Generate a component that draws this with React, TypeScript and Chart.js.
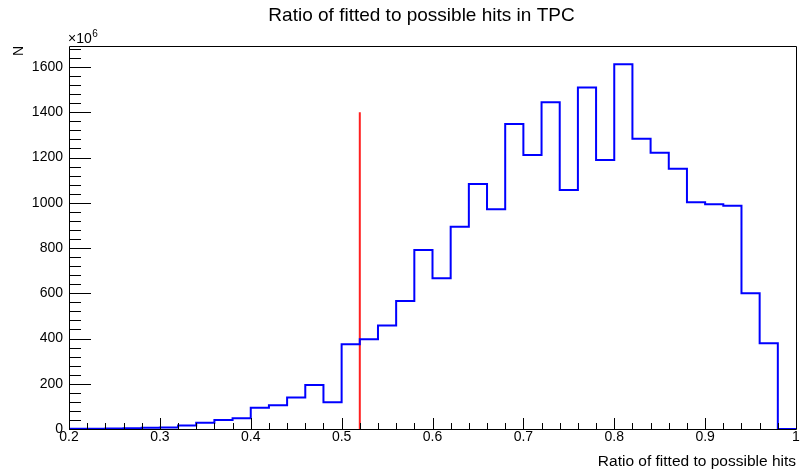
import React, { useEffect, useRef } from "react";
import { Chart, registerables } from "chart.js";

Chart.register(...registerables);

// Histogram bin low edges (ratio), bin width 0.02
const binLowEdges = [
  0.2, 0.22, 0.24, 0.26, 0.28, 0.3, 0.32, 0.34, 0.36, 0.38,
  0.4, 0.42, 0.44, 0.46, 0.48, 0.5, 0.52, 0.54, 0.56, 0.58,
  0.6, 0.62, 0.64, 0.66, 0.68, 0.7, 0.72, 0.74, 0.76, 0.78,
  0.8, 0.82, 0.84, 0.86, 0.88, 0.9, 0.92, 0.94, 0.96, 0.98,
];
const binUpperEdge = 1.0;

// Counts in units of 10^6
const counts = [
  1, 1, 2, 3, 5, 7, 15, 28, 40, 47,
  94, 105, 139, 194, 118, 375, 397, 457, 566, 791,
  666, 894, 1083, 971, 1348, 1211, 1444, 1056, 1510, 1189,
  1612, 1283, 1221, 1150, 1002, 993, 987, 600, 379, 0,
];

// Cut line
const cutX = 0.52;
const cutTop = 1400;

const xMin = 0.2;
const xMax = 1.0;
const yMin = 0;
const yMax = 1693;
const xMajorStep = 0.1;
const xMinorStep = 0.02;
const yMajorStep = 200;
const yMinorStep = 40;

const titleText = "Ratio of fitted to possible hits in TPC";
const xTitle = "Ratio of fitted to possible hits";
const yTitle = "N";

const FONT = "'Liberation Sans', Arial, Helvetica, sans-serif";

const rootAxesPlugin = {
  id: "rootAxes",
  afterDraw(chart: any) {
    const { ctx, chartArea } = chart;
    const xs = chart.scales.x;
    const ys = chart.scales.y;
    const { left, right, top, bottom } = chartArea;
    ctx.save();
    // frame
    ctx.strokeStyle = "#000";
    ctx.lineWidth = 1;
    ctx.beginPath();
    ctx.rect(Math.round(left) + 0.5, Math.round(top) + 0.5, Math.round(right - left), Math.round(bottom - top));
    ctx.stroke();

    // y ticks (inward)
    const nY = Math.round((yMax - yMin) / yMinorStep);
    ctx.beginPath();
    for (let i = 0; i <= nY; i++) {
      const v = yMin + i * yMinorStep;
      if (v > yMax) break;
      const py = Math.round(ys.getPixelForValue(v)) + 0.5;
      const major = Math.abs(v / yMajorStep - Math.round(v / yMajorStep)) < 1e-6;
      const len = major ? 22 : 12;
      ctx.moveTo(left, py);
      ctx.lineTo(left + len, py);
    }
    // x ticks (inward)
    const nX = Math.round((xMax - xMin) / xMinorStep);
    for (let i = 0; i <= nX; i++) {
      const v = xMin + i * xMinorStep;
      const px = Math.round(xs.getPixelForValue(v)) + 0.5;
      const major = i % Math.round(xMajorStep / xMinorStep) === 0;
      const len = major ? 11 : 6;
      ctx.moveTo(px, bottom);
      ctx.lineTo(px, bottom - len);
    }
    ctx.stroke();

    // texts
    ctx.fillStyle = "#000";
    ctx.font = `19px ${FONT}`;
    ctx.textAlign = "center";
    ctx.textBaseline = "alphabetic";
    ctx.fillText(titleText, 421.5, 20.5);

    ctx.font = `15.5px ${FONT}`;
    ctx.textAlign = "right";
    ctx.fillText(xTitle, right, 466);

    // y title rotated
    ctx.save();
    ctx.translate(22.5, top);
    ctx.rotate(-Math.PI / 2);
    ctx.font = `14px ${FONT}`;
    ctx.textAlign = "right";
    ctx.textBaseline = "alphabetic";
    ctx.fillText(yTitle, 0, 0);
    ctx.restore();

    // exponent
    ctx.font = `14px ${FONT}`;
    ctx.textAlign = "left";
    ctx.textBaseline = "alphabetic";
    const base = "\u00d710";
    ctx.fillText(base, left - 1, 43);
    const w = ctx.measureText(base).width;
    ctx.font = `10px ${FONT}`;
    ctx.fillText("6", left - 1 + w + 0.5, 37);
    ctx.restore();
  },
};

export default function App() {
  const ref = useRef<HTMLCanvasElement | null>(null);
  useEffect(() => {
    document.body.style.margin = "0";
    const canvas = ref.current;
    if (!canvas) return;
    const histPoints = binLowEdges.map((x, i) => ({ x, y: counts[i] }));
    histPoints.push({ x: binUpperEdge, y: counts[counts.length - 1] });
    const cutPoints = [
      { x: cutX, y: 0 },
      { x: cutX, y: cutTop },
    ];
    const chart = new Chart(canvas, {
      type: "line",
      data: {
        datasets: [
          {
            label: "hist",
            data: histPoints,
            stepped: "before",
            borderColor: "#0000ff",
            borderWidth: 2,
            pointRadius: 0,
            fill: false,
          },
          {
            label: "cut",
            data: cutPoints,
            borderColor: "#ff2020",
            borderWidth: 2,
            pointRadius: 0,
            fill: false,
          },
        ],
      },
      options: {
        responsive: false,
        animation: false,
        events: [],
        layout: { padding: { left: 0, right: 8, top: 46, bottom: 0 } },
        plugins: {
          legend: { display: false },
          title: { display: false },
          tooltip: { enabled: false },
        },
        scales: {
          x: {
            type: "linear",
            min: xMin,
            max: xMax,
            grid: { display: false, drawTicks: false },
            border: { display: false },
            afterFit: (s: any) => {
              s.height = 45;
            },
            ticks: {
              stepSize: xMajorStep,
              padding: 0,
              color: "#000",
              maxRotation: 0,
              autoSkip: false,
              font: { family: FONT, size: 14 },
              callback: (v: any) => String(Number(Number(v).toFixed(2))),
            },
          },
          y: {
            type: "linear",
            min: yMin,
            max: yMax,
            grid: { display: false, drawTicks: false },
            border: { display: false },
            afterFit: (s: any) => {
              s.width = 69;
            },
            ticks: {
              stepSize: yMajorStep,
              includeBounds: false,
              padding: 6,
              color: "#000",
              autoSkip: false,
              font: { family: FONT, size: 14 },
              callback: (v: any) => String(Math.round(Number(v))),
            },
          },
        },
      },
      plugins: [rootAxesPlugin],
    });
    return () => chart.destroy();
  }, []);
  return (
    <div style={{ width: 804, height: 474 }}>
      <canvas ref={ref} width={804} height={474} />
    </div>
  );
}
